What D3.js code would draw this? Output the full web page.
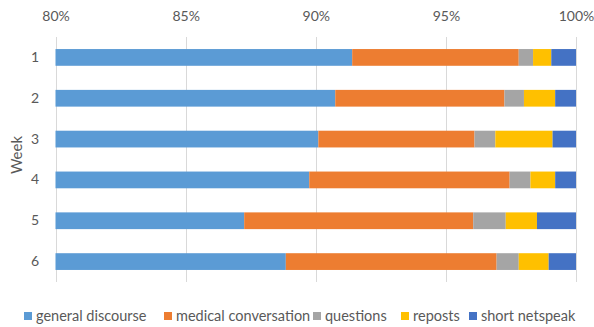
<!DOCTYPE html>
<html>
<head>
<meta charset="utf-8">
<script src="https://cdn.jsdelivr.net/npm/d3@7"></script>
<style>
  html, body { margin: 0; padding: 0; background: #fff; }
  svg { display: block; font-family: Lato, "Open Sans", sans-serif; }
</style>
</head>
<body>
<svg id="chart" width="594" height="327"></svg>
<script>
// Share of posts per week, by type (percent, each week sums to 100)
const weeks = ["1", "2", "3", "4", "5", "6"];
const seriesNames = ["general discourse", "medical conversation", "questions", "reposts", "short netspeak"];
const generalDiscourse    = [91.40, 90.75, 90.10, 89.75, 87.25, 88.85];
const medicalConversation = [6.40, 6.50, 6.00, 7.70, 8.80, 8.10];
const questions           = [0.55, 0.75, 0.80, 0.80, 1.25, 0.85];
const reposts             = [0.70, 1.20, 2.20, 0.95, 1.20, 1.15];
const shortNetspeak       = [0.95, 0.80, 0.90, 0.80, 1.50, 1.05];
const xTickValues = [80, 85, 90, 95, 100];
const colors = ["#5B9BD5", "#ED7D31", "#A5A5A5", "#FFC000", "#4472C4"];

const seriesValues = [generalDiscourse, medicalConversation, questions, reposts, shortNetspeak];
const rows = weeks.map((w, i) => {
  const r = { week: w };
  seriesNames.forEach((s, j) => { r[s] = seriesValues[j][i]; });
  return r;
});
const stacked = d3.stack().keys(seriesNames)(rows);

const svg = d3.select("#chart");
const plot = { left: 55.5, right: 576, top: 37, bottom: 282 };
const textColor = "#595959";

const x = d3.scaleLinear().domain([80, 100]).range([plot.left, plot.right]).clamp(true);
const y = d3.scaleBand().domain(weeks).range([plot.top, plot.bottom])
  .paddingInner(0.59).paddingOuter(0.295);

// vertical gridlines
svg.append("g")
  .selectAll("line")
  .data(xTickValues)
  .join("line")
  .attr("x1", d => Math.round(x(d)) + 0.5)
  .attr("x2", d => Math.round(x(d)) + 0.5)
  .attr("y1", plot.top)
  .attr("y2", plot.bottom)
  .attr("stroke", "#D9D9D9")
  .attr("stroke-width", 1);

// stacked bars
svg.append("g")
  .selectAll("g")
  .data(stacked)
  .join("g")
  .attr("fill", (d, i) => colors[i])
  .selectAll("rect")
  .data(d => d)
  .join("rect")
  .attr("x", d => x(d[0]))
  .attr("width", d => Math.max(0, x(d[1]) - x(d[0])))
  .attr("y", d => y(d.data.week))
  .attr("height", y.bandwidth());

// top axis
const xAxis = d3.axisTop(x)
  .tickValues(xTickValues)
  .tickFormat(d => d + "%")
  .tickSize(0)
  .tickPadding(0);
const gx = svg.append("g")
  .attr("transform", "translate(0,21)")
  .call(xAxis);
gx.select(".domain").remove();
gx.selectAll("text")
  .attr("fill", textColor)
  .attr("font-size", 14)
  .attr("font-family", "Lato, 'Open Sans', sans-serif")
  .attr("dy", 0);

// left axis (week labels)
const yAxis = d3.axisLeft(y).tickSize(0).tickPadding(0);
const gy = svg.append("g")
  .attr("transform", "translate(39,0)")
  .call(yAxis);
gy.select(".domain").remove();
gy.selectAll("text")
  .attr("fill", textColor)
  .attr("font-size", 14)
  .attr("font-family", "Lato, 'Open Sans', sans-serif");

// axis title
svg.append("text")
  .attr("transform", "translate(22,155) rotate(-90)")
  .attr("text-anchor", "middle")
  .attr("fill", textColor)
  .attr("font-size", 15)
  .text("Week");

// legend along the bottom
const legendX = [24, 164, 313, 401, 469];
const items = svg.append("g")
  .attr("class", "legend")
  .selectAll("g")
  .data(seriesNames)
  .join("g")
  .attr("transform", (d, i) => `translate(${legendX[i]},321)`);
items.append("rect")
  .attr("width", 8)
  .attr("height", 8)
  .attr("y", -9)
  .attr("fill", (d, i) => colors[i]);
items.append("text")
  .attr("x", 12)
  .attr("fill", textColor)
  .attr("font-size", 14.5)
  .text(d => d);
</script>
</body>
</html>
